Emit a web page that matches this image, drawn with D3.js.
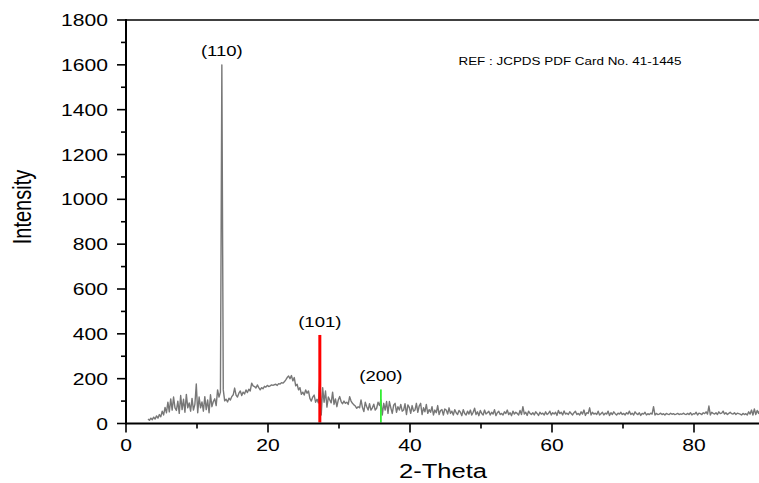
<!DOCTYPE html>
<html><head><meta charset="utf-8">
<script src="https://cdn.jsdelivr.net/npm/d3@7"></script>
<style>
html,body{margin:0;padding:0;background:#fff;overflow:hidden}
text{font-family:"Liberation Sans",Arial,sans-serif;fill:#000}
</style></head>
<body><svg id="c" width="759" height="483"></svg>
<script>
// ---- data ----
const thetaStart = 3.1, thetaStep = 0.2;
const intensity = [
 20,14,24,17,28,20,34,24,40,30,
 55,38,72,48,95,52,110,60,118,70,
 58,100,45,125,62,108,50,130,70,92,
 55,112,60,85,176,48,118,70,96,55,
 120,62,105,48,128,75,98,110,80,150,
 118,140,1600,150,101,108,96,113,105,120,
 128,158,127,118,135,145,125,140,132,150,
 138,153,145,180,168,165,158,172,160,150,
 160,155,166,162,170,165,168,172,170,173,
 175,170,178,176,182,180,186,195,205,212,
 200,214,190,205,168,175,150,160,130,140,
 127,150,135,145,112,100,118,127,95,108,
 92,203,38,160,95,145,73,118,105,92,
 140,85,110,75,105,120,98,88,100,90,
 95,85,120,100,90,83,78,68,75,70,
 105,72,53,95,75,60,88,60,70,86,
 60,68,95,80,105,38,90,60,98,45,
 98,70,45,82,90,50,75,60,85,55,
 60,88,40,83,72,45,80,55,60,90,
 50,78,90,40,70,52,85,45,62,50,
 75,38,60,48,80,40,58,62,38,65,
 60,42,70,45,55,38,62,48,40,58,
 50,35,62,45,38,55,42,60,38,50,
 68,40,52,35,58,45,38,60,42,48,
 55,38,50,42,62,35,48,55,40,45,
 38,52,45,60,40,48,35,55,42,50,
 45,38,58,40,75,42,50,36,55,45,
 40,48,38,52,45,36,50,42,46,38,
 52,40,45,55,38,48,42,50,36,58,
 44,50,38,56,42,46,40,52,45,38,
 48,55,40,45,38,52,42,60,36,48,
 45,70,38,50,42,46,40,55,38,44,
 50,38,46,42,55,36,48,40,52,44,
 38,46,42,50,40,45,38,48,42,55,
 40,46,38,52,44,40,48,36,45,42,
 50,38,44,40,46,42,75,38,45,40,
 42,46,40,44,38,45,42,40,46,41,
 44,40,42,45,40,43,41,46,42,40,
 45,40,48,38,44,42,50,38,46,44,
 40,48,44,52,42,78,38,50,45,42,
 48,40,52,44,46,55,42,48,40,45,
 50,44,42,48,40,46,44,42,38,45,
 40,44,38,52,42,60,38,65,40,58,
 45,62,40,55,48
];
const refLines = [
  {label:"(101)", theta:27.3, value:395, color:"#ff0000"},
  {label:"(200)", theta:35.9, value:152, color:"#33ee33"}
];
const peakLabel = {label:"(110)", theta:13.5, value:1600};
const xTicks = [0,20,40,60,80];
const yTicks = [0,200,400,600,800,1000,1200,1400,1600,1800];
const refText = "REF : JCPDS PDF Card No. 41-1445";

// ---- chart ----
const SX = 1.28;
const svg = d3.select("#c");
const x = d3.scaleLinear().domain([0,100]).range([126,836]);
const y = d3.scaleLinear().domain([0,1800]).range([423.5,20]);

const pts = intensity.map((v,i)=>[thetaStart + i*thetaStep, v]);

function txt(px,py,s,size,anchor,rot){
  return svg.append("text")
    .attr("transform",`translate(${px},${py}) scale(${SX},1)`+(rot?" rotate(-90)":""))
    .attr("text-anchor",anchor||"middle")
    .style("font-size",size+"px").text(s);
}

// data line
svg.append("path").datum(pts)
  .attr("fill","none").attr("stroke","#777777").attr("stroke-width",1.4)
  .attr("stroke-linejoin","round")
  .attr("d", d3.line().x(d=>x(d[0])).y(d=>y(d[1])));

// reference lines
refLines.forEach((r,i)=>{
  svg.append("line").attr("x1",x(r.theta)).attr("x2",x(r.theta))
    .attr("y1",y(0)-1).attr("y2",y(r.value))
    .attr("stroke",r.color).attr("stroke-width",i===0?3:1.8);
  txt(x(r.theta), y(r.value)-8, r.label, 14.5, "middle");
});
txt(x(peakLabel.theta), y(peakLabel.value)-9, peakLabel.label, 14.5, "middle");

// axes
const gx = svg.append("g").attr("transform",`translate(0,${y(0)})`);
gx.append("line").attr("x1",x(0)).attr("x2",836).attr("stroke","#000").attr("stroke-width",2);
d3.range(0,101,10).forEach(t=>{
  gx.append("line").attr("x1",x(t)).attr("x2",x(t)).attr("y1",0)
    .attr("y2", t%20===0?9:5).attr("stroke","#000").attr("stroke-width",1.6);
});
xTicks.forEach(t=>txt(x(t), y(0)+27, String(t), 16.5, "middle"));

const gy = svg.append("g");
gy.append("line").attr("x1",x(0)).attr("x2",x(0)).attr("y1",y(0)+1).attr("y2",y(1800)-1)
  .attr("stroke","#000").attr("stroke-width",2);
d3.range(0,1801,100).forEach(v=>{
  gy.append("line").attr("x1",x(0)).attr("x2",x(0)-(v%200===0?9:5))
    .attr("y1",y(v)).attr("y2",y(v)).attr("stroke","#000").attr("stroke-width",1.6);
});
yTicks.forEach(v=>txt(108, y(v)+6, String(v), 16.5, "end"));
// top frame line
svg.append("line").attr("x1",x(0)).attr("x2",836).attr("y1",y(1800)).attr("y2",y(1800))
  .attr("stroke","#000").attr("stroke-width",1.6);

// axis titles
txt(443, 478, "2-Theta", 20, "middle");
txt(31, 207, "Intensity", 20, "middle", true);
// ref note
txt(570, 65, refText, 10.5, "middle");
</script></body></html>
